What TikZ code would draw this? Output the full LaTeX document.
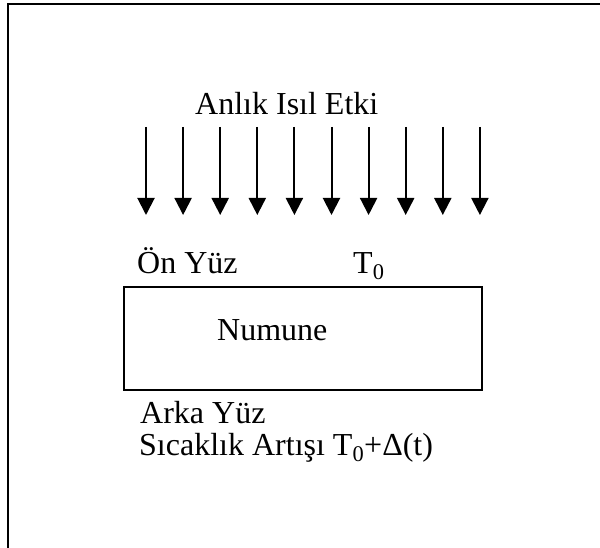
\documentclass[tikz,border=0pt]{standalone}
\usepackage{fontspec}
\setmainfont{Liberation Serif}
\usepackage{tikz}
\usetikzlibrary{arrows.meta,positioning}

\tikzset{
    lbl/.style={anchor=base west, inner sep=0pt, font=\fontsize{32}{38}\selectfont},
    heat/.style={line width=2pt, -{Triangle[length=17pt,width=17pt]}},
}

\begin{document}
\begin{tikzpicture}[x=1pt, y=-1pt]
        \useasboundingbox (0,0) rectangle (600,548);

        % page frame, only top and left edges show
        \draw[line width=2.2pt] (8,548) -- (8,4) -- (600,4);

        \node[lbl] (heatlbl) at (195,115) {Anlık Isıl Etki};

        % the pulse arrows
        \foreach \i in {0,...,9} {
            \coordinate (top\i) at (146+37.1*\i,127);
            \coordinate (tip\i) at (146+37.1*\i,215);
            \draw[heat] (top\i) -- (tip\i);
        }

        \node[lbl] (front) at (137,273) {Ön Yüz};
        \node[lbl] (tzero) at (353,273) {T\textsubscript{0}};

        \node[draw, rectangle, line width=1.6pt, minimum width=358pt, minimum height=103pt] (sample) at (303,338.5) {};
        \node[lbl] (samplelbl) at (217,340) {Numune};

        \node[lbl] (back) at (140,423) {Arka Yüz};
        \node[lbl] (rise) at (139,455) {Sıcaklık Artışı T\textsubscript{0}+Δ(t)};
    \end{tikzpicture}
\end{document}
